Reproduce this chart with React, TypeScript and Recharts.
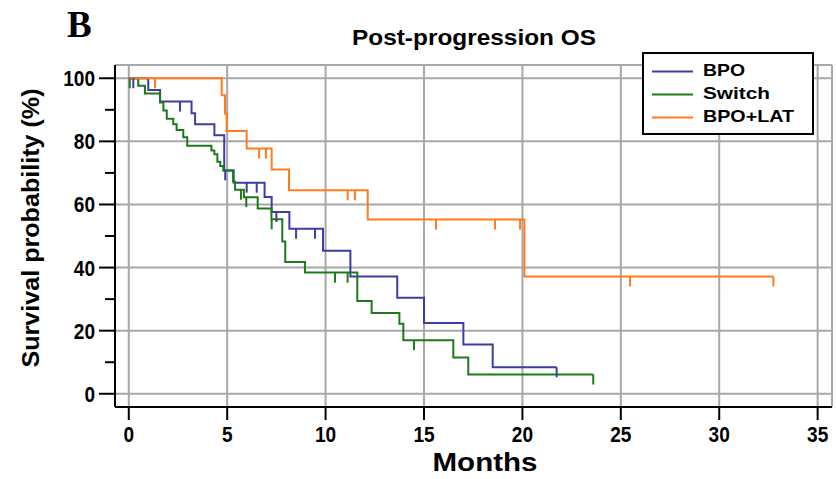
import React from "react";
import { CartesianGrid, ComposedChart, Line, Scatter, XAxis, YAxis } from "recharts";

// Kaplan-Meier steps (t = months, s = survival %)
const bpoCurve = [
  { t: 0, s: 100 }, { t: 0.99, s: 96.3 }, { t: 1.59, s: 92.6 }, { t: 3.19, s: 88.9 },
  { t: 3.37, s: 85.4 }, { t: 4.35, s: 81.9 }, { t: 4.85, s: 70.8 }, { t: 5.33, s: 66.9 },
  { t: 6.9, s: 62.4 }, { t: 7.26, s: 57.6 }, { t: 8.16, s: 52.3 }, { t: 9.87, s: 45.3 },
  { t: 11.26, s: 37.2 }, { t: 13.64, s: 30.4 }, { t: 15.0, s: 22.4 }, { t: 17.0, s: 15.6 },
  { t: 18.49, s: 8.4 }, { t: 21.74, s: 8.4 },
];
const bpoCensored = [
  { t: 0.23, s: 100 }, { t: 2.6, s: 92.6 }, { t: 4.9, s: 70.8 }, { t: 5.99, s: 66.9 },
  { t: 6.5, s: 66.9 }, { t: 7.5, s: 57.6 }, { t: 8.5, s: 52.3 }, { t: 9.46, s: 52.3 },
  { t: 21.74, s: 8.4 },
];

const switchCurve = [
  { t: 0, s: 100 }, { t: 0.48, s: 97.6 }, { t: 0.82, s: 95.2 }, { t: 1.59, s: 92.3 },
  { t: 1.76, s: 89.8 }, { t: 1.93, s: 87.2 }, { t: 2.26, s: 85.4 }, { t: 2.43, s: 83.6 },
  { t: 2.77, s: 81.3 }, { t: 2.97, s: 78.6 }, { t: 4.2, s: 77.1 }, { t: 4.35, s: 75.9 },
  { t: 4.5, s: 73.5 }, { t: 4.65, s: 72.2 }, { t: 4.8, s: 70.8 }, { t: 5.3, s: 67.3 },
  { t: 5.4, s: 64.7 }, { t: 5.85, s: 62.3 }, { t: 6.55, s: 58.7 }, { t: 7.25, s: 55.3 },
  { t: 7.8, s: 48.3 }, { t: 7.95, s: 41.8 }, { t: 8.95, s: 38.4 }, { t: 11.61, s: 29.4 },
  { t: 12.34, s: 25.6 }, { t: 13.75, s: 22.2 }, { t: 13.95, s: 17.0 }, { t: 16.49, s: 11.5 },
  { t: 17.25, s: 6.1 }, { t: 23.6, s: 6.1 },
];
const switchCensored = [
  { t: 0.05, s: 100 }, { t: 5.7, s: 64.7 }, { t: 5.97, s: 62.3 }, { t: 7.26, s: 55.3 },
  { t: 10.48, s: 38.4 }, { t: 11.12, s: 38.4 }, { t: 14.49, s: 17.0 }, { t: 23.6, s: 6.1 },
];

const latCurve = [
  { t: 0, s: 100 }, { t: 4.72, s: 94.6 }, { t: 4.89, s: 88.8 }, { t: 4.97, s: 83.3 },
  { t: 5.99, s: 77.7 }, { t: 7.26, s: 71.1 }, { t: 8.14, s: 64.5 }, { t: 12.14, s: 55.2 },
  { t: 20.1, s: 37.2 }, { t: 32.75, s: 37.2 },
];
const latCensored = [
  { t: 1.33, s: 100 }, { t: 6.62, s: 77.7 }, { t: 6.97, s: 77.7 }, { t: 11.12, s: 64.5 },
  { t: 11.49, s: 64.5 }, { t: 15.61, s: 55.2 }, { t: 18.61, s: 55.2 }, { t: 19.88, s: 55.2 },
  { t: 25.47, s: 37.2 }, { t: 32.75, s: 37.2 },
];

const xTicks = [0, 5, 10, 15, 20, 25, 30, 35];
const yTicks = [0, 10, 20, 30, 40, 50, 60, 70, 80, 90, 100];
const gridTicks = [0, 20, 40, 60, 80, 100];

const BLUE = "#3d3da6";
const GREEN = "#1c7a1c";
const ORANGE = "#ff7b1c";
const SANS = "'Liberation Sans', Arial, sans-serif";

const censorMark = (color: string) => (props: any) => {
  const { cx, cy } = props;
  return <line x1={cx} x2={cx} y1={cy} y2={cy + 10} stroke={color} strokeWidth={2} />;
};

const YTick = (props: any) => {
  const { x, y, payload } = props;
  const major = payload.value % 20 === 0;
  const label = String(payload.value);
  return (
    <g>
      <line x1={x + (major ? 4 : 10)} x2={x + 20} y1={y} y2={y} stroke="#000" strokeWidth={2} />
      {major && (
        <text
          x={x}
          y={y + 8}
          textAnchor="end"
          fontSize={22}
          fontWeight="bold"
          fontFamily={SANS}
          fill="#000"
          textLength={label.length * 10.6}
          lengthAdjust="spacingAndGlyphs"
        >
          {label}
        </text>
      )}
    </g>
  );
};

const XTick = (props: any) => {
  const { x, y, payload } = props;
  const label = String(payload.value);
  return (
    <text
      x={x}
      y={y + 16}
      textAnchor="middle"
      fontSize={22}
      fontWeight="bold"
      fontFamily={SANS}
      fill="#000"
      textLength={label.length * 10.6}
      lengthAdjust="spacingAndGlyphs"
    >
      {label}
    </text>
  );
};

const legendItems = [
  { name: "BPO", color: BLUE, len: 42 },
  { name: "Switch", color: GREEN, len: 67 },
  { name: "BPO+LAT", color: ORANGE, len: 91 },
];

export default function App() {
  return (
    <div style={{ position: "fixed", left: 0, top: 0, width: 836, height: 479, background: "#fff" }}>
      <ComposedChart width={836} height={479} margin={{ top: 65, right: 4, bottom: 42, left: 55 }}>
        <CartesianGrid yAxisId="grid" stroke="#a8a8a8" strokeWidth={2} />
        <XAxis
          dataKey="t"
          type="number"
          domain={[-0.7, 35.73]}
          allowDataOverflow
          ticks={xTicks}
          interval={0}
          height={30}
          tickSize={13}
          tickMargin={6}
          axisLine={{ stroke: "#000", strokeWidth: 2 }}
          tickLine={{ stroke: "#000", strokeWidth: 2 }}
          tick={<XTick />}
        />
        <YAxis
          dataKey="s"
          type="number"
          domain={[-4.19, 104.2]}
          allowDataOverflow
          ticks={yTicks}
          interval={0}
          width={60}
          tickSize={16}
          tickMargin={4}
          axisLine={{ stroke: "#000", strokeWidth: 2 }}
          tickLine={false}
          tick={<YTick />}
        />
        <YAxis yAxisId="grid" hide type="number" domain={[-4.19, 104.2]} allowDataOverflow ticks={gridTicks} />
        <Line data={bpoCurve} dataKey="s" type="stepAfter" stroke={BLUE} strokeWidth={2} dot={false} isAnimationActive={false} />
        <Line data={switchCurve} dataKey="s" type="stepAfter" stroke={GREEN} strokeWidth={2} dot={false} isAnimationActive={false} />
        <Line data={latCurve} dataKey="s" type="stepAfter" stroke={ORANGE} strokeWidth={2} dot={false} isAnimationActive={false} />
        <Scatter data={bpoCensored} dataKey="s" shape={censorMark(BLUE)} isAnimationActive={false} />
        <Scatter data={switchCensored} dataKey="s" shape={censorMark(GREEN)} isAnimationActive={false} />
        <Scatter data={latCensored} dataKey="s" shape={censorMark(ORANGE)} isAnimationActive={false} />
      </ComposedChart>
      <svg width={836} height={479} style={{ position: "absolute", left: 0, top: 0, pointerEvents: "none" }}>
        <text x={67} y={37} fontSize={37} fontWeight="bold" fontFamily="'Liberation Serif', 'Times New Roman', serif">
          B
        </text>
        <text x={474} y={45} textAnchor="middle" fontSize={22} fontWeight="bold" fontFamily={SANS} textLength={244} lengthAdjust="spacingAndGlyphs">
          Post-progression OS
        </text>
        <text
          x={0}
          y={0}
          transform="translate(39 228) rotate(-90)"
          textAnchor="middle"
          fontSize={24}
          fontWeight="bold"
          fontFamily={SANS}
          textLength={279}
          lengthAdjust="spacingAndGlyphs"
        >
          Survival probability (%)
        </text>
        <text x={485} y={471} textAnchor="middle" fontSize={25} fontWeight="bold" fontFamily={SANS} textLength={105} lengthAdjust="spacingAndGlyphs">
          Months
        </text>
        <rect x={643} y={53} width={170} height={81} fill="#fff" stroke="#000" strokeWidth={2} />
        {legendItems.map((item, i) => (
          <g key={item.name}>
            <line x1={652} x2={693} y1={71.5 + i * 23} y2={71.5 + i * 23} stroke={item.color} strokeWidth={2} />
            <text
              x={703}
              y={75.5 + i * 23}
              fontSize={17}
              fontWeight="bold"
              fontFamily={SANS}
              textLength={item.len}
              lengthAdjust="spacingAndGlyphs"
            >
              {item.name}
            </text>
          </g>
        ))}
      </svg>
    </div>
  );
}
